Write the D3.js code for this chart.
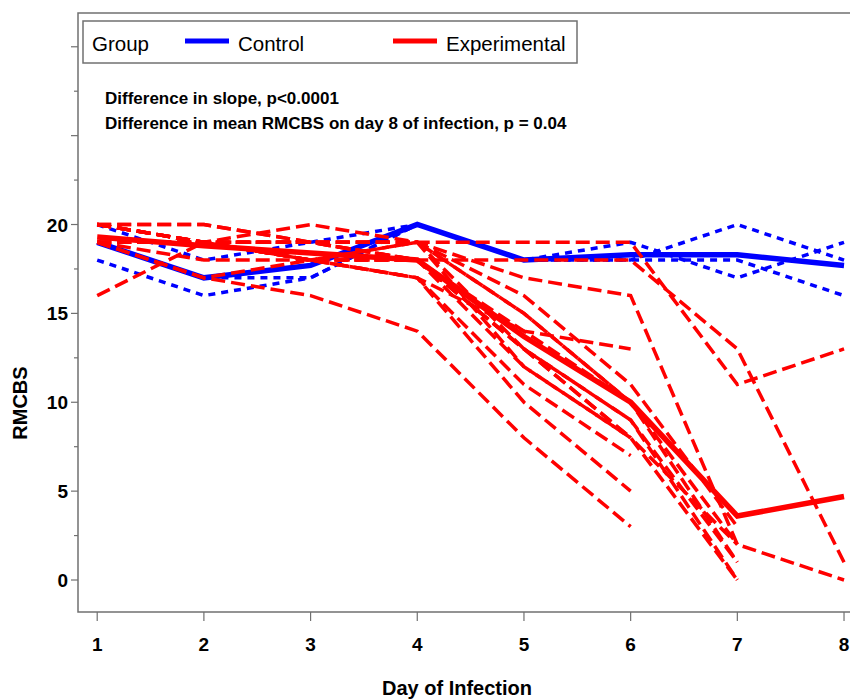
<!DOCTYPE html>
<html>
<head>
<meta charset="utf-8">
<script src="https://cdn.jsdelivr.net/npm/d3@7/dist/d3.min.js"></script>
<style>
  body { margin: 0; background: #fff; }
  text { font-family: "Liberation Sans", Arial, sans-serif; fill: #000; }
</style>
</head>
<body>
<script>
var days = [1, 2, 3, 4, 5, 6, 7, 8];
var yTickLabels = [0, 5, 10, 15, 20];

var controlMean = [19, 17, 17.7, 20, 18, 18.3, 18.3, 17.7];
var experimentalMean = [19.3, 18.8, 18.4, 18, 13.7, 10, 3.6, 4.7];

// one row per control subject
var controlSubjects = [
    [20, 18, 19, 20, 18, 18, 20, 18],
    [18, 16, 17, 20, 18, 19, 17, 19],
    [19, 17, 17, 20, 18, 18, 18, 16]
];

// one row per experimental subject, null = no measurement
var experimentalSubjects = [
    [20, 20, 19, 19, 19, 19, 11, 13],
    [20, 19, 19, 18, 18, 18, 13, 1],
    [19, 19, 18, 19, 17, 16, 2, 0],
    [20, 19, 19, 19, 16, 11, 3, null],
    [16, 19, 18, 19, 15, 10, 2, null],
    [20, 20, 19, 19, 15, 10, 1, null],
    [19, 19, 19, 18, 13, 9, 0, null],
    [19, 19, 20, 19, 13, 9, 1, null],
    [20, 19, 19, 19, 12, 8, 2, null],
    [19, 19, 18, 18, 13, 8, 0, null],
    [20, 19, 18, 17, 14, 13, null, null],
    [20, 19, 18, 18, 14, 10, null, null],
    [19, 19, 19, 18, 13, 8, null, null],
    [20, 19, 18, 18, 12, 8, null, null],
    [19, 18, 18, 17, 11, 7, null, null],
    [19, 17, 18, 17, 10, 5, null, null],
    [19, 17, 16, 14, 8, 3, null, null]
];

var legendItems = ["Control", "Experimental"];
var notes = ["Difference in slope, p<0.0001",
             "Difference in mean RMCBS on day 8 of infection, p = 0.04"];

var width = 850;
var height = 699;
var blue = "#0000ff";
var red = "#ff0000";

var svg = d3.select("body").append("svg")
    .attr("width", width)
    .attr("height", height);

var x = d3.scaleLinear().domain([0.82, 8.056]).range([78, 850]);
var y = d3.scaleLinear().domain([-1.8, 31.9]).range([612, 13]);

// frame
svg.append("path")
    .attr("d", "M850,13H78V612H850")
    .attr("fill", "none")
    .attr("stroke", "#707070")
    .attr("stroke-width", 1.5);

// y axis ticks
var yMajor = d3.range(0, 31, 5);
var yMinor = d3.range(2.5, 30, 5);
svg.selectAll(".ymaj").data(yMajor).enter().append("line")
    .attr("x1", 71).attr("x2", 78)
    .attr("y1", function(d) { return y(d); })
    .attr("y2", function(d) { return y(d); })
    .attr("stroke", "#707070").attr("stroke-width", 1.2);
svg.selectAll(".ymin").data(yMinor).enter().append("line")
    .attr("x1", 74).attr("x2", 78)
    .attr("y1", function(d) { return y(d); })
    .attr("y2", function(d) { return y(d); })
    .attr("stroke", "#707070").attr("stroke-width", 1.2);
svg.selectAll(".ylab").data(yTickLabels).enter().append("text")
    .attr("x", 68)
    .attr("y", function(d) { return y(d) + 7; })
    .attr("text-anchor", "end")
    .attr("font-size", 19)
    .attr("font-weight", "bold")
    .text(function(d) { return d; });

// x axis ticks
svg.selectAll(".xt").data(days).enter().append("line")
    .attr("x1", function(d) { return x(d); })
    .attr("x2", function(d) { return x(d); })
    .attr("y1", 612).attr("y2", 621)
    .attr("stroke", "#707070").attr("stroke-width", 1.2);
svg.selectAll(".xlab").data(days).enter().append("text")
    .attr("x", function(d) { return x(d); })
    .attr("y", 651)
    .attr("text-anchor", "middle")
    .attr("font-size", 19)
    .attr("font-weight", "bold")
    .text(function(d) { return d; });

svg.append("text")
    .attr("x", 457).attr("y", 695)
    .attr("text-anchor", "middle")
    .attr("font-size", 20)
    .attr("font-weight", "bold")
    .text("Day of Infection");
svg.append("text")
    .attr("transform", "translate(27,403) rotate(-90)")
    .attr("text-anchor", "middle")
    .attr("font-size", 20)
    .attr("font-weight", "bold")
    .text("RMCBS");

var line = d3.line()
    .defined(function(d) { return d != null; })
    .x(function(d, i) { return x(days[i]); })
    .y(function(d) { return y(d); });

var plot = svg.append("g");

plot.selectAll(".ctl").data(controlSubjects).enter().append("path")
    .attr("d", line)
    .attr("fill", "none")
    .attr("stroke", blue)
    .attr("stroke-width", 3.5)
    .attr("stroke-dasharray", "7,6");

plot.append("path")
    .attr("d", line(controlMean))
    .attr("fill", "none")
    .attr("stroke", blue)
    .attr("stroke-width", 5.5);

plot.selectAll(".exp").data(experimentalSubjects).enter().append("path")
    .attr("d", line)
    .attr("fill", "none")
    .attr("stroke", red)
    .attr("stroke-width", 3.5)
    .attr("stroke-dasharray", "14,6");

plot.append("path")
    .attr("d", line(experimentalMean))
    .attr("fill", "none")
    .attr("stroke", red)
    .attr("stroke-width", 5.5);

// legend
var legend = svg.append("g");
legend.append("rect")
    .attr("x", 83).attr("y", 21)
    .attr("width", 494).attr("height", 42)
    .attr("fill", "#fff")
    .attr("stroke", "#707070")
    .attr("stroke-width", 1.5);
legend.append("text")
    .attr("x", 92).attr("y", 51)
    .attr("font-size", 20.5)
    .text("Group");
var legendX = [185, 393];
var legendColors = [blue, red];
legend.selectAll(".ll").data(legendItems).enter().append("line")
    .attr("x1", function(d, i) { return legendX[i]; })
    .attr("x2", function(d, i) { return legendX[i] + 44; })
    .attr("y1", 41).attr("y2", 41)
    .attr("stroke", function(d, i) { return legendColors[i]; })
    .attr("stroke-width", 5);
legend.selectAll(".lt").data(legendItems).enter().append("text")
    .attr("x", function(d, i) { return legendX[i] + 53; })
    .attr("y", 51)
    .attr("font-size", 20.5)
    .text(function(d) { return d; });

svg.selectAll(".note").data(notes).enter().append("text")
    .attr("x", 105)
    .attr("y", function(d, i) { return 104 + i * 25; })
    .attr("font-size", 17)
    .attr("font-weight", "bold")
    .text(function(d) { return d; });
</script>
</body>
</html>
